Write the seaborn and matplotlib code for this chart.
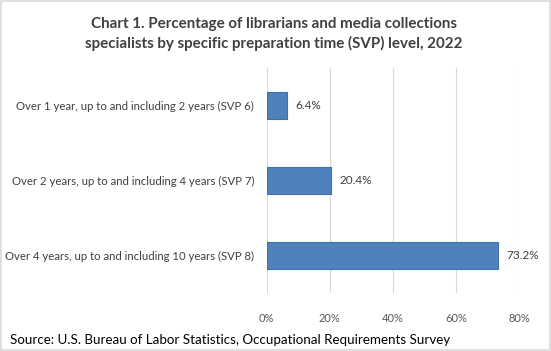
import pandas as pd
import seaborn as sns
import matplotlib.pyplot as plt
from matplotlib.patches import Rectangle

categories = [
    "Over 1 year, up to and including 2 years (SVP 6)",
    "Over 2 years, up to and including 4 years (SVP 7)",
    "Over 4 years, up to and including 10 years (SVP 8)",
]
values = [6.4, 20.4, 73.2]
xticks = [0, 20, 40, 60, 80]

sns.set_theme(style="white")
plt.rcParams['font.family'] = ['Lato', 'DejaVu Sans']

df = pd.DataFrame({"level": categories, "pct": values})

fig = plt.figure(figsize=(5.51, 3.51), dpi=100)
ax = fig.add_axes([0.484, 0.165, 0.4585, 0.641])
sns.barplot(data=df, x="pct", y="level", orient="h", color="#4F81BD",
            saturation=1, width=0.35, edgecolor="#41719C", linewidth=0.8, ax=ax, zorder=3)

ax.set_xlim(0, 80)
ax.set_ylim(2.5, -0.5)
ax.set_xticks(xticks)
ax.set_xticklabels([f"{t}%" for t in xticks], fontsize=8, color="#595959")
ax.tick_params(axis="y", labelsize=8.2, labelcolor="#404040", length=0, pad=9)
ax.tick_params(axis="x", length=0, pad=14)
ax.xaxis.grid(True, color="#D9D9D9", linewidth=0.8, zorder=0)
ax.set_axisbelow(True)
for s in ax.spines.values():
    s.set_visible(False)
ax.set_xlabel("")
ax.set_ylabel("")

for i, v in enumerate(values):
    ax.text(v + 2.8, i, f"{v:.1f}%", va="center", ha="left", fontsize=8.5, color="#404040")

fig.text(0.497, 0.903, "Chart 1. Percentage of librarians and media collections\n"
         "specialists by specific preparation time (SVP) level, 2022",
         ha="center", va="center", fontsize=10.9, fontweight="bold", color="#404040",
         linespacing=1.4)
fig.text(0.019, 0.03, "Source: U.S. Bureau of Labor Statistics, Occupational Requirements Survey",
         ha="left", va="center", fontsize=9.6, color="black")

fig.patches.append(Rectangle((0.002, 0.003), 0.996, 0.994, transform=fig.transFigure,
                             fill=False, edgecolor="#D9D9D9", linewidth=1.2))

fig.savefig("out.png", dpi=100)
